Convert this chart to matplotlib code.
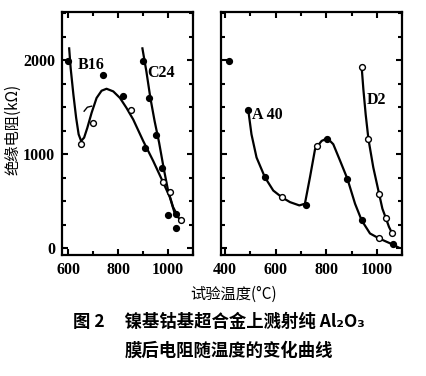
import matplotlib
matplotlib.use('Agg')
import matplotlib.pyplot as plt
from matplotlib.ticker import MultipleLocator, FixedLocator

plt.rcParams['font.family'] = ['Noto Sans CJK SC', 'DejaVu Sans']

# ---- left panel: B16 and C24 ----
b16_curve_x = [603, 609, 620, 631, 641, 651, 663, 676, 693, 713, 733, 753, 780, 807, 833, 860, 900, 940, 980, 1007, 1027]
b16_curve_y = [2124, 1913, 1632, 1386, 1211, 1140, 1176, 1281, 1439, 1597, 1674, 1695, 1667, 1597, 1492, 1369, 1141, 930, 702, 544, 368]
b16_filled_x = [600, 740, 820, 907, 1000, 1033]
b16_filled_y = [1990, 1836, 1615, 1070, 351, 211]
b16_open_x = [651, 697, 853, 980, 1053]
b16_open_y = [1105, 1334, 1474, 702, 298]
# small hand-drawn hook next to the B16 curve
hook_x = [663, 676, 693]
hook_y = [1457, 1499, 1510]

c24_curve_x = [897, 913, 929, 946, 964, 983, 1000, 1020, 1044]
c24_curve_y = [2124, 1878, 1597, 1351, 1123, 842, 614, 439, 316]
c24_filled_x = [900, 922, 950, 977, 1033]
c24_filled_y = [1990, 1600, 1200, 850, 368]
c24_open_x = [1009]
c24_open_y = [597]

# ---- right panel: A40 and D2 ----
lone_x = [417]
lone_y = [1990]

a40_curve_x = [492, 505, 525, 558, 591, 624, 657, 694, 716, 736, 756, 782, 805, 828, 855, 884, 914, 940, 973, 1009, 1062, 1085]
a40_curve_y = [1474, 1211, 965, 755, 614, 544, 491, 456, 474, 755, 1053, 1141, 1169, 1106, 930, 737, 474, 298, 158, 105, 42, 10]
a40_filled_x = [492, 558, 720, 802, 884, 940, 1062]
a40_filled_y = [1474, 755, 456, 1165, 737, 298, 42]
a40_open_x = [624, 762, 1009]
a40_open_y = [544, 1088, 105]

d2_curve_x = [940, 947, 956, 967, 986, 1009, 1022, 1035, 1048, 1059]
d2_curve_y = [1930, 1685, 1422, 1158, 860, 579, 421, 326, 228, 168]
d2_open_x = [940, 967, 1009, 1035, 1059]
d2_open_y = [1930, 1158, 579, 326, 168]

fig = plt.figure(figsize=(4.26, 3.76), dpi=100)
ax1 = fig.add_axes([0.146, 0.322, 0.307, 0.646])
ax2 = fig.add_axes([0.519, 0.322, 0.425, 0.646])

lw = 1.6
ms = 4.2
tick_font = {'family': 'Liberation Serif', 'weight': 'bold', 'size': 11.5}


def draw_open(ax, x, y):
    ax.plot(x, y, 'o', ms=ms, mfc='white', mec='black', mew=1.0, zorder=3)


def draw_filled(ax, x, y):
    ax.plot(x, y, 'o', ms=ms, color='black', zorder=3)


ax1.plot(b16_curve_x, b16_curve_y, color='black', lw=lw)
ax1.plot(hook_x, hook_y, color='black', lw=1.0)
ax1.plot(c24_curve_x, c24_curve_y, color='black', lw=lw)
draw_filled(ax1, b16_filled_x, b16_filled_y)
draw_open(ax1, b16_open_x, b16_open_y)
draw_filled(ax1, c24_filled_x, c24_filled_y)
draw_open(ax1, c24_open_x, c24_open_y)
ax1.text(638, 1950, 'B16', fontdict=tick_font, ha='left', va='center')
ax1.text(916, 1860, 'C24', fontdict=tick_font, ha='left', va='center')

ax2.plot(a40_curve_x, a40_curve_y, color='black', lw=lw)
ax2.plot(d2_curve_x, d2_curve_y, color='black', lw=lw)
draw_filled(ax2, lone_x, lone_y)
draw_filled(ax2, a40_filled_x, a40_filled_y)
draw_open(ax2, a40_open_x, a40_open_y)
draw_open(ax2, d2_open_x, d2_open_y)
ax2.text(506, 1420, 'A 40', fontdict=tick_font, ha='left', va='center')
ax2.text(960, 1580, 'D2', fontdict=tick_font, ha='left', va='center')

ax1.set_xlim(575, 1100)
ax2.set_xlim(385, 1100)
for ax in (ax1, ax2):
    ax.set_ylim(-70, 2510)
    ax.yaxis.set_major_locator(FixedLocator([0, 1000, 2000]))
    ax.yaxis.set_minor_locator(MultipleLocator(250))
    ax.xaxis.set_minor_locator(MultipleLocator(100))
    ax.tick_params(which='both', direction='in', top=True, right=True, width=1.5)
    ax.tick_params(which='major', length=4, pad=5)
    ax.tick_params(which='minor', length=3)
    for s in ax.spines.values():
        s.set_linewidth(1.6)

ax1.xaxis.set_major_locator(FixedLocator([600, 800, 1000]))
ax2.xaxis.set_major_locator(FixedLocator([400, 600, 800, 1000]))
ax2.set_yticklabels([])
for ax in (ax1, ax2):
    for lab in ax.get_xticklabels() + ax.get_yticklabels():
        lab.set_fontfamily('Liberation Serif')
        lab.set_fontweight('bold')
        lab.set_fontsize(11.5)

fig.text(0.031, 0.655, '绝缘电阻(kΩ)', rotation=90, ha='center', va='center', fontsize=11)
fig.text(0.548, 0.218, '试验温度(°C)', ha='center', va='center', fontsize=11)
fig.text(0.514, 0.143, '图 2     镍基钴基超合金上溅射纯 Al₂O₃', ha='center', va='center',
         fontsize=12.5, fontweight='bold')
fig.text(0.537, 0.068, '膜后电阻随温度的变化曲线', ha='center', va='center',
         fontsize=12.5, fontweight='bold')

fig.savefig('out.png', dpi=100)
